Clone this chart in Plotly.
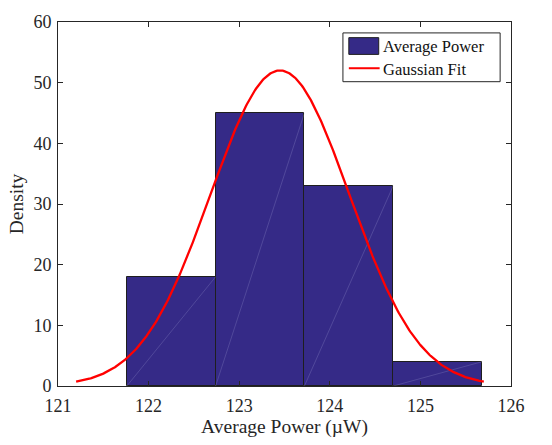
import numpy as np
import plotly.graph_objects as go

# Histogram of measured average power (bin edges in µW, counts per bin)
bin_edges = [121.76, 122.74, 123.72, 124.70, 125.68]
bin_counts = [18, 45, 33, 4]

# Gaussian fit parameters
fit_mu = 123.45
fit_sigma = 0.767
fit_n = 100
fit_range = [121.2, 125.7]

x_ticks = [121, 122, 123, 124, 125, 126]
y_ticks = [0, 10, 20, 30, 40, 50, 60]

BAR_COLOR = "#352A87"
AXIS_COLOR = "#262626"
FONT = "Liberation Serif, Times New Roman, serif"

centers = [(a + b) / 2 for a, b in zip(bin_edges[:-1], bin_edges[1:])]
widths = [b - a for a, b in zip(bin_edges[:-1], bin_edges[1:])]

fit_x = np.linspace(fit_range[0], fit_range[1], 400)
fit_y = fit_n / (fit_sigma * np.sqrt(2 * np.pi)) * np.exp(-0.5 * ((fit_x - fit_mu) / fit_sigma) ** 2)

fig = go.Figure()

fig.add_trace(go.Bar(
    x=centers, y=bin_counts, width=widths,
    marker=dict(color=BAR_COLOR, line=dict(color="#1e1e1e", width=1)),
    name="Average Power", showlegend=False,
))

# faint patch triangulation seams across each bar
seam_x, seam_y = [], []
for a, b, h in zip(bin_edges[:-1], bin_edges[1:], bin_counts):
    seam_x += [a, b, None]
    seam_y += [0, h, None]
fig.add_trace(go.Scatter(
    x=seam_x, y=seam_y, mode="lines",
    line=dict(color="rgba(190,190,230,0.35)", width=0.6),
    hoverinfo="skip", showlegend=False,
))

fig.add_trace(go.Scatter(
    x=fit_x, y=fit_y, mode="lines",
    line=dict(color="#FF0000", width=2.3),
    name="Gaussian Fit", showlegend=False,
))

axis_common = dict(
    showgrid=False, zeroline=False,
    showline=True, linecolor=AXIS_COLOR, linewidth=1, mirror="ticks",
    ticks="inside", ticklen=5, tickcolor=AXIS_COLOR, tickwidth=1,
    tickfont=dict(family=FONT, size=18, color=AXIS_COLOR),
)

fig.update_layout(
    width=552, height=445,
    margin=dict(l=58, r=41, t=16, b=58),
    paper_bgcolor="white", plot_bgcolor="white",
    bargap=0,
    xaxis=dict(range=[121, 126], tickvals=x_ticks, ticklabelstandoff=3,
               title=dict(text="Average Power (µW)", font=dict(family=FONT, size=19.5, color=AXIS_COLOR), standoff=4),
               **axis_common),
    yaxis=dict(range=[0, 60], tickvals=y_ticks, ticklabelstandoff=2,
               title=dict(text="Density", font=dict(family=FONT, size=19.5, color=AXIS_COLOR), standoff=4),
               **axis_common),
)

# legend box
shapes = [
    dict(type="rect", xref="paper", yref="paper", x0=0.629, x1=0.976, y0=0.836, y1=0.970,
         line=dict(color=AXIS_COLOR, width=1), fillcolor="white", layer="above"),
    dict(type="rect", xref="paper", yref="paper", x0=0.642, x1=0.708, y0=0.911, y1=0.957,
         line=dict(color="#1e1e1e", width=1), fillcolor=BAR_COLOR, layer="above"),
    dict(type="line", xref="paper", yref="paper", x0=0.642, x1=0.710, y0=0.873, y1=0.873,
         line=dict(color="#FF0000", width=2), layer="above"),
]
fig.update_layout(shapes=shapes)
for label, yy in [("Average Power", 0.932), ("Gaussian Fit", 0.870)]:
    fig.add_annotation(xref="paper", yref="paper", x=0.714, y=yy, text=label,
                       showarrow=False, xanchor="left", yanchor="middle",
                       font=dict(family=FONT, size=16.5, color="#111111"))

fig.write_html("out.html")
